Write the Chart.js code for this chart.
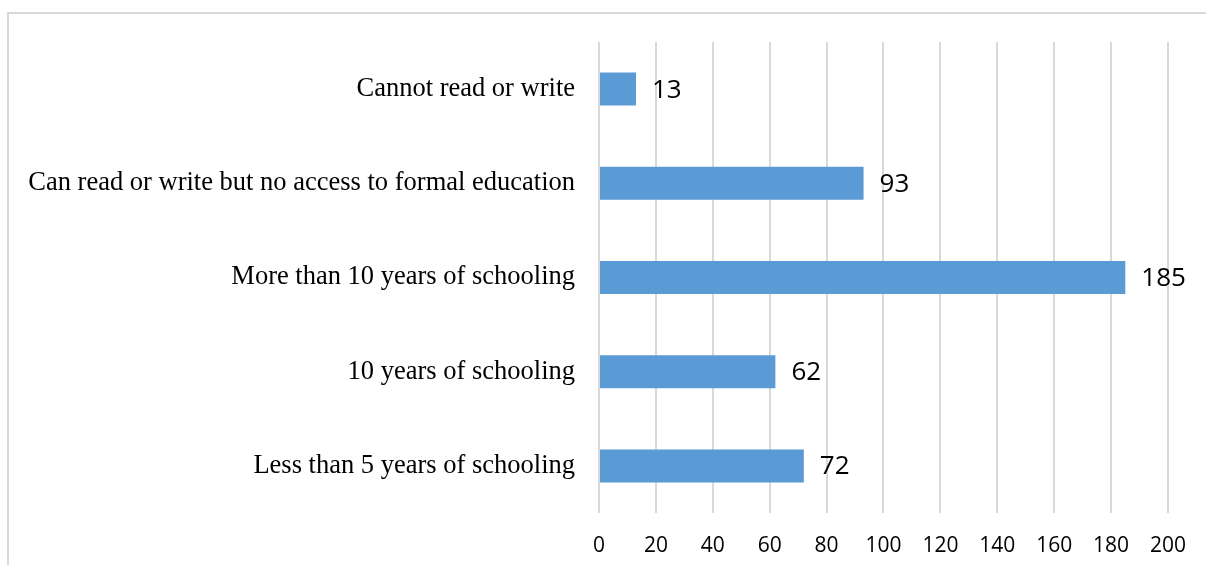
<!DOCTYPE html>
<html>
<head>
<meta charset="utf-8">
<script src="https://cdn.jsdelivr.net/npm/chart.js@4.4.1/dist/chart.umd.min.js"></script>
<style>
  html, body { margin: 0; padding: 0; background: #ffffff; }
  #wrap { position: relative; width: 1206px; height: 565px; overflow: hidden; }
  #frame {
    position: absolute; left: 7px; top: 12px; width: 1210px; height: 570px;
    border-top: 2px solid #d9d9d9; border-left: 2px solid #d9d9d9;
    box-sizing: border-box;
  }
  canvas { position: absolute; left: 0; top: 0; }
</style>
</head>
<body>
<div id="wrap">
  <div id="frame"></div>
  <canvas id="c" width="1206" height="565"></canvas>
</div>
<script>
// Education level of respondents
const categories = [
  'Cannot read or write',
  'Can read or write but no access to formal education',
  'More than 10 years of schooling',
  '10 years of schooling',
  'Less than 5 years of schooling'
];
const counts = [13, 93, 185, 62, 72];
const xTicks = [0, 20, 40, 60, 80, 100, 120, 140, 160, 180, 200];

const BAR_COLOR = '#5B9BD5';
const GRID_COLOR = '#d9d9d9';

// Writes each bar's value just past its end
const valueLabels = {
  id: 'valueLabels',
  afterDatasetsDraw(chart) {
    const ctx = chart.ctx;
    const meta = chart.getDatasetMeta(0);
    ctx.save();
    ctx.font = '26px "Open Sans"';
    ctx.fillStyle = '#000000';
    ctx.textAlign = 'left';
    ctx.textBaseline = 'middle';
    meta.data.forEach((bar, i) => {
      ctx.fillText(String(chart.data.datasets[0].data[i]), bar.x + 16, bar.y + 1);
    });
    ctx.restore();
  }
};

new Chart(document.getElementById('c'), {
  type: 'bar',
  data: {
    labels: categories,
    datasets: [{
      data: counts,
      backgroundColor: BAR_COLOR,
      borderWidth: 0,
      barPercentage: 0.7,
      categoryPercentage: 0.5
    }]
  },
  options: {
    indexAxis: 'y',
    responsive: false,
    animation: false,
    layout: { padding: { left: 0, top: 42, right: 36, bottom: 0 } },
    plugins: { legend: { display: false }, tooltip: { enabled: false } },
    scales: {
      x: {
        min: 0,
        max: 200,
        afterBuildTicks(scale) { scale.ticks = xTicks.map(v => ({ value: v })); },
        afterFit(scale) { scale.height = 52; },
        grid: { color: GRID_COLOR, lineWidth: 2, drawTicks: false },
        border: { display: false },
        ticks: {
          padding: 20,
          color: '#000000',
          font: { family: '"Open Sans"', size: 21 }
        }
      },
      y: {
        afterFit(scale) { scale.width = 599; },
        grid: { display: false, drawTicks: false },
        border: { display: false },
        ticks: {
          padding: 24,
          color: '#000000',
          font: { family: '"Liberation Serif"', size: 26.5 }
        }
      }
    }
  },
  plugins: [valueLabels]
});
</script>
</body>
</html>
